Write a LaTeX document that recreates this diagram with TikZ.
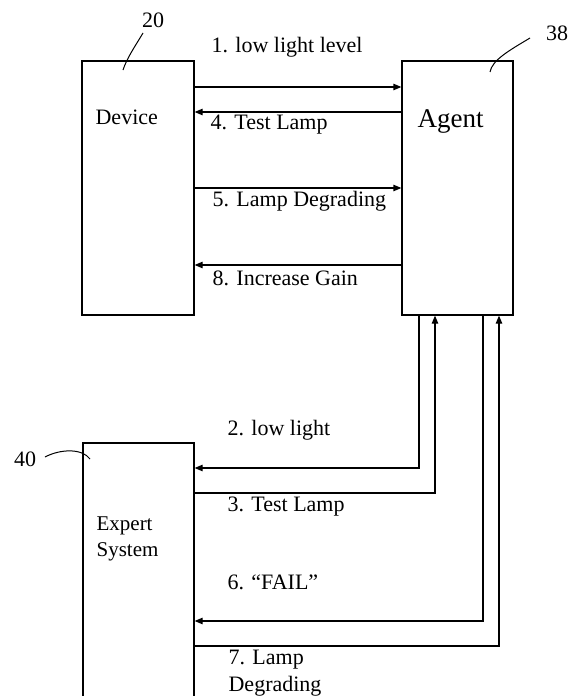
\documentclass[tikz,border=0pt]{standalone}
\usepackage{fontspec}
\setmainfont{Liberation Serif}
\usetikzlibrary{arrows.meta}

\begin{document}
\begin{tikzpicture}[x=0.5pt, y=-0.5pt, line width=0.6pt,
  >={Triangle[length=4pt, width=3.2pt]},
  block/.style={draw, rectangle, inner sep=0pt},
  msg/.style={anchor=west, inner sep=0pt, font=\fontsize{11}{13.5}\selectfont},
  refnum/.style={inner sep=0pt, font=\fontsize{11}{13}\selectfont},
  leader/.style={line width=0.5pt}]
  \useasboundingbox (0,0) rectangle (569,696);

  % Device block
  \node[block, minimum width=56pt, minimum height=127pt] (dev) at (138,188) {};
  \node[anchor=west, inner sep=0pt, font=\fontsize{11}{13}\selectfont] (devtxt) at (95,117) {Device};

  % Agent block
  \node[block, minimum width=55.5pt, minimum height=127pt] (agent) at (457.5,188) {};
  \node[anchor=west, inner sep=0pt, font=\fontsize{13.5}{16}\selectfont] (agenttxt) at (417,121) {Agent};

  % Expert system block (runs off the bottom)
  \node[block, minimum width=55.5pt, minimum height=138.5pt] (es) at (138.5,581.5) {};
  \node[anchor=west, align=left, inner sep=0pt, font=\fontsize{10.5}{13}\selectfont] (estxt) at (96,539) {Expert\\System};

  % Reference numerals
  \node[refnum] (n20) at (153,20) {20};
  \draw[leader] (143,33) .. controls (134,48) and (127,58) .. (123,70);
  \node[refnum] (n38) at (557,33) {38};
  \draw[leader] (530,38) .. controls (510,50) and (492,60) .. (490,72);
  \node[refnum] (n40) at (25,459) {40};
  \draw[leader] (45,457) .. controls (60,449) and (82,448) .. (90,459);

  % Device <-> Agent messages
  \coordinate (r1) at (300,87);
  \coordinate (r4) at (300,112);
  \coordinate (r5) at (300,188);
  \coordinate (r8) at (300,265);
  \draw[->] (dev.east |- r1) -- (agent.west |- r1);
  \draw[->] (agent.west |- r4) -- (dev.east |- r4);
  \draw[->] (dev.east |- r5) -- (agent.west |- r5);
  \draw[->] (agent.west |- r8) -- (dev.east |- r8);
  \node[msg] (t1) at (211,47) {1. low light level};
  \node[msg] (t4) at (210,125) {4. Test Lamp};
  \node[msg] (t5) at (212,201) {5. Lamp Degrading};
  \node[msg] (t8) at (212,278) {8. Increase Gain};

  % Agent <-> Expert system messages
  \coordinate (b2) at (419,468);
  \coordinate (b3) at (435,493);
  \coordinate (b6) at (483,621);
  \coordinate (b7) at (499,646);
  \draw[->] (agent.south -| b2) |- (es.east |- b2);
  \draw[->] (es.east |- b3) -| (agent.south -| b3);
  \draw[->] (agent.south -| b6) |- (es.east |- b6);
  \draw[->] (es.east |- b7) -| (agent.south -| b7);
  \node[msg] (t2) at (227,430) {2. low light};
  \node[msg] (t3) at (227,507) {3. Test Lamp};
  \node[msg] (t6) at (227,582) {6. “FAIL”};
  \node[msg, align=left] (t7) at (228,673) {7. Lamp\\Degrading};

\end{tikzpicture}
\end{document}
